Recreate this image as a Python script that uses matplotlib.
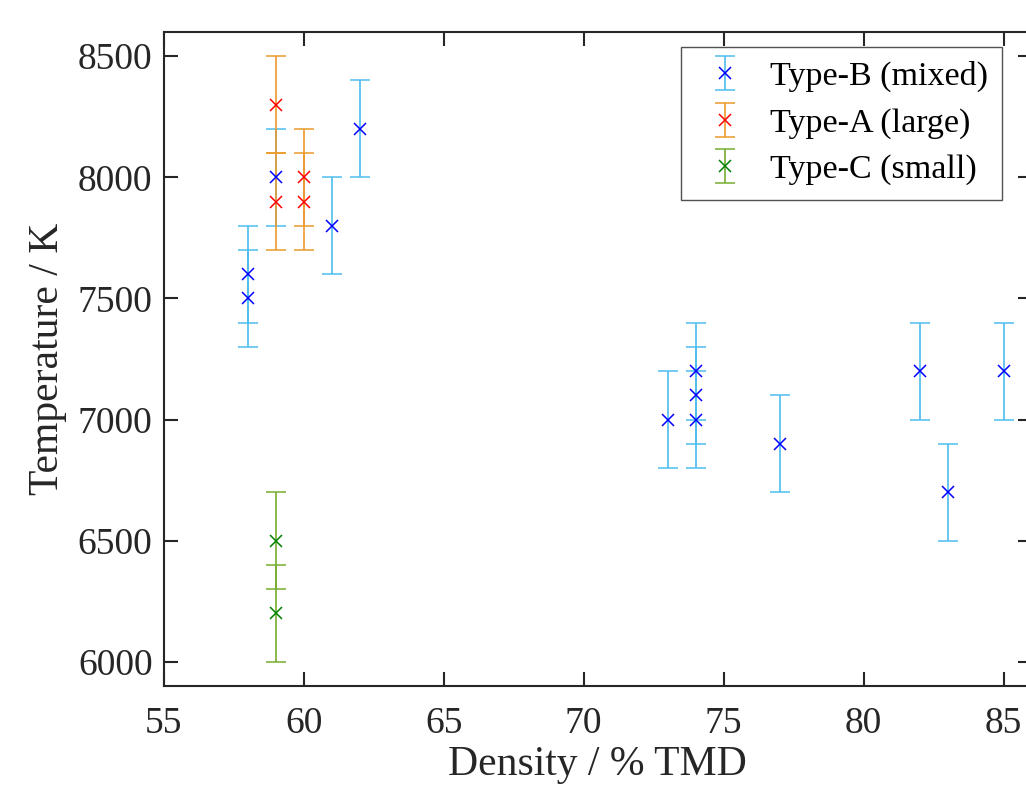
import matplotlib
matplotlib.use("Agg")
import matplotlib.pyplot as plt

plt.rcParams['font.family'] = ['Liberation Serif', 'DejaVu Serif']

# Type-B (mixed)
density_b = [58, 58, 59, 61, 62, 73, 74, 74, 74, 77, 82, 83, 85]
temp_b = [7600, 7500, 8000, 7800, 8200, 7000, 7200, 7100, 7000, 6900, 7200, 6700, 7200]
err_b = [200, 200, 200, 200, 200, 200, 200, 200, 200, 200, 200, 200, 200]

# Type-A (large)
density_a = [59, 59, 60, 60]
temp_a = [8300, 7900, 8000, 7900]
err_a = [200, 200, 200, 200]

# Type-C (small)
density_c = [59, 59]
temp_c = [6500, 6200]
err_c = [200, 200]

fig = plt.figure(figsize=(10.26, 7.9), dpi=100)
ax = fig.add_axes([0.1595, 0.1316, 0.846, 0.828])

common = dict(fmt='x', markersize=8, markeredgewidth=1.1, elinewidth=1.2,
              capsize=7, capthick=1.2, linestyle='none')

ax.errorbar(density_b, temp_b, yerr=err_b, color='#0000FF', ecolor='#4DBEEE',
            label='Type-B (mixed)', **common)
ax.errorbar(density_a, temp_a, yerr=err_a, color='#FF0000', ecolor='#EC9A2C',
            label='Type-A (large)', **common)
ax.errorbar(density_c, temp_c, yerr=err_c, color='#008000', ecolor='#77AC30',
            label='Type-C (small)', **common)

ax.set_xlim(55, 86)
ax.set_ylim(5900, 8600)
ax.set_xticks([55, 60, 65, 70, 75, 80, 85])
ax.set_yticks([6000, 6500, 7000, 7500, 8000, 8500])

ax.tick_params(direction='in', top=True, right=True, length=10, width=1.5,
               labelsize=27, colors='#262626', pad=8)
ax.tick_params(axis='x', pad=15)
for s in ax.spines.values():
    s.set_linewidth(1.5)
    s.set_color('#262626')

ax.set_xlabel('Density / % TMD', fontsize=30, color='#262626', labelpad=3)
ax.set_ylabel('Temperature / K', fontsize=30, color='#262626', labelpad=8)

leg = ax.legend(loc='upper right', bbox_to_anchor=(0.966, 0.977), borderaxespad=0,
                fontsize=24.5, frameon=True, fancybox=False, edgecolor='#262626',
                handlelength=1.75, handletextpad=0.45, labelspacing=0.45,
                borderpad=0.42)
leg.get_frame().set_linewidth(1.0)

fig.savefig('out.png', dpi=100)
